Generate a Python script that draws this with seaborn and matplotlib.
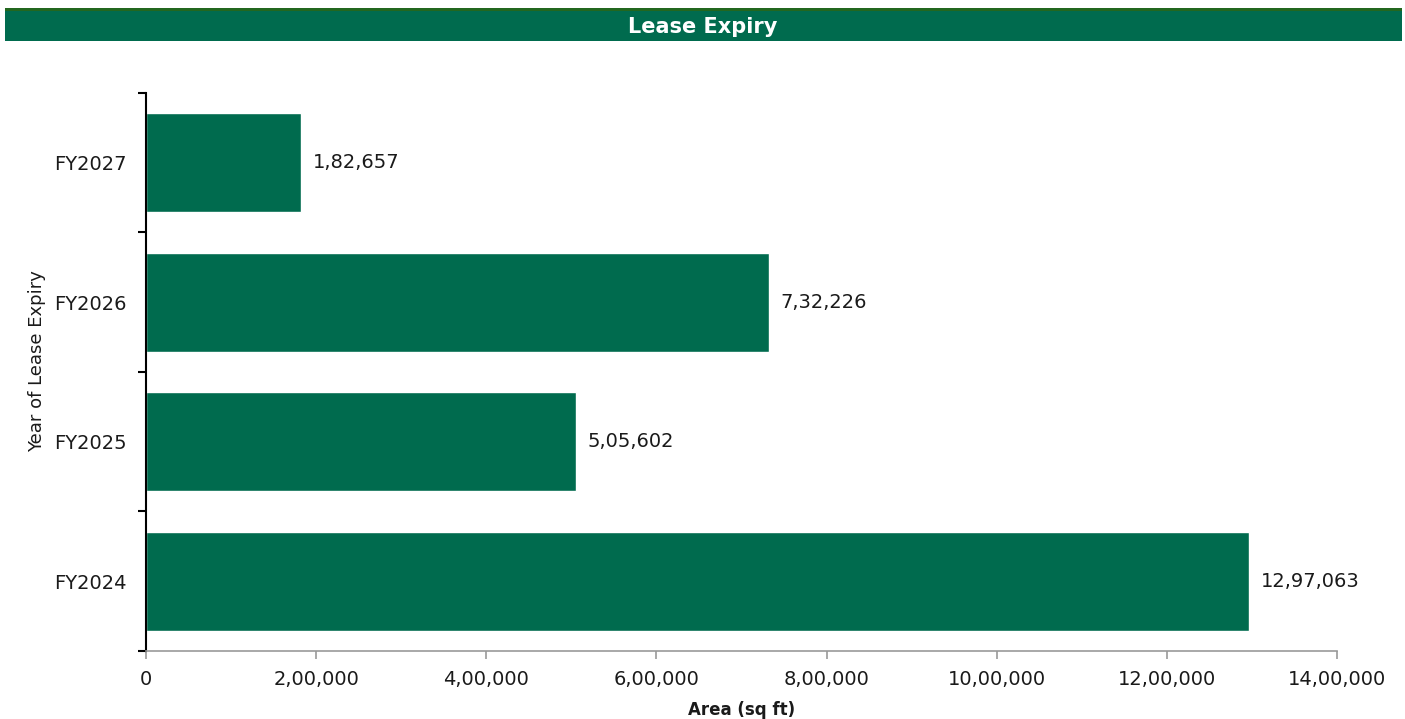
import matplotlib
matplotlib.use("Agg")
import matplotlib.pyplot as plt
import matplotlib.ticker as mticker
from matplotlib.patches import Rectangle
import seaborn as sns
import pandas as pd
import numpy as np

years = ["FY2024", "FY2025", "FY2026", "FY2027"]
area_sqft = [1297063, 505602, 732226, 182657]
x_ticks = [0, 200000, 400000, 600000, 800000, 1000000, 1200000, 1400000]

GREEN = "#006B4E"
DARK_STRIP = "#23671F"
TEXT = "#1a1a1a"


def indian_format(n):
    s = str(int(round(n)))
    if len(s) <= 3:
        return s
    last3 = s[-3:]
    rest = s[:-3]
    groups = []
    while len(rest) > 2:
        groups.insert(0, rest[-2:])
        rest = rest[:-2]
    if rest:
        groups.insert(0, rest)
    return ",".join(groups + [last3])


sns.set_theme(style="white")
plt.rcParams["font.family"] = ["DejaVu Sans"]

df = pd.DataFrame({"year": years, "area": area_sqft})
order = years[::-1]

fig = plt.figure(figsize=(14.05, 7.19), dpi=100)
ax = fig.add_axes([0.1039, 0.0946, 0.8477, 0.7761])

sns.barplot(data=df, y="year", x="area", order=order, orient="h",
            color=GREEN, saturation=1, width=0.71, ax=ax)

ax.set_xlim(0, 1400000)
ax.set_ylim(len(order) - 0.5, -0.5)
ax.xaxis.set_major_locator(mticker.FixedLocator(x_ticks))
ax.xaxis.set_major_formatter(mticker.FuncFormatter(lambda v, p: indian_format(v)))

for i, cat in enumerate(order):
    v = df.loc[df.year == cat, "area"].iloc[0]
    ax.annotate(indian_format(v), xy=(v, i), xytext=(8, 0),
                textcoords="offset points", va="center", ha="left",
                fontsize=14, color=TEXT)

for s in ["top", "right"]:
    ax.spines[s].set_visible(False)
ax.spines["left"].set_color("black")
ax.spines["left"].set_linewidth(1.5)
ax.spines["bottom"].set_color("#999999")
ax.spines["bottom"].set_linewidth(1.2)

ax.tick_params(axis="x", which="major", bottom=True, length=6, width=1.2,
               color="#999999", labelsize=14, labelcolor=TEXT, pad=8)
ax.tick_params(axis="y", which="major", left=False, length=0,
               labelsize=14, labelcolor=TEXT, pad=14)
ax.yaxis.set_minor_locator(mticker.FixedLocator(np.arange(-0.5, len(order), 1.0)))
ax.tick_params(axis="y", which="minor", left=True, length=6, width=1.5,
               color="black")

ax.set_xlabel("Area (sq ft)", fontsize=12, fontweight="bold", color=TEXT,
              labelpad=8)
ax.set_ylabel("Year of Lease Expiry", fontsize=13, color=TEXT)
ax.yaxis.set_label_coords(-0.084, 0.52)

# title banner
fig.patches.append(Rectangle((5 / 1405, 1 - 41 / 719), 1397 / 1405, 33 / 719,
                             transform=fig.transFigure, facecolor=GREEN,
                             edgecolor="none", zorder=0))
fig.patches.append(Rectangle((5 / 1405, 1 - 11 / 719), 1397 / 1405, 3 / 719,
                             transform=fig.transFigure, facecolor=DARK_STRIP,
                             edgecolor="none", zorder=1))
fig.text(0.5, 1 - 27 / 719, "Lease Expiry", ha="center", va="center",
         color="white", fontsize=15, fontweight="bold")

fig.savefig("out.png", dpi=100, facecolor="white")
